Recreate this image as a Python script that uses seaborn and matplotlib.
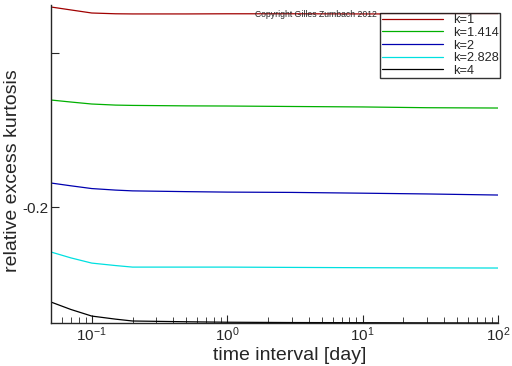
import numpy as np
import pandas as pd
import seaborn as sns
import matplotlib.pyplot as plt

# time interval [day]
t = [0.05, 0.07, 0.1, 0.15, 0.2, 0.5, 1, 3, 10, 30, 100]
k_labels = ['k=1', 'k=1.414', 'k=2', 'k=2.828', 'k=4']
k1 = [-0.0701, -0.0720, -0.0740, -0.0745, -0.0746, -0.0746, -0.0745, -0.0745, -0.0746, -0.0746, -0.0747]
k1414 = [-0.1305, -0.1318, -0.1331, -0.1338, -0.1340, -0.1343, -0.1344, -0.1347, -0.1350, -0.1355, -0.1357]
k2 = [-0.1844, -0.1862, -0.1880, -0.1890, -0.1895, -0.1900, -0.1903, -0.1905, -0.1910, -0.1915, -0.1922]
k2828 = [-0.2292, -0.2330, -0.2364, -0.2380, -0.2390, -0.2390, -0.2390, -0.2392, -0.2394, -0.2395, -0.2396]
k4 = [-0.2617, -0.2665, -0.2708, -0.2728, -0.2740, -0.2745, -0.2748, -0.2750, -0.2751, -0.2752, -0.2753]
colors = ['#a00000', '#00b000', '#0000b0', '#00e0e0', '#000000']

rows = []
for lab, vals in zip(k_labels, [k1, k1414, k2, k2828, k4]):
    for x, v in zip(t, vals):
        rows.append({'t': x, 'kurt': v, 'k': lab})
df = pd.DataFrame(rows)

sns.set_style("ticks")
plt.rcParams['font.family'] = ['Liberation Sans', 'DejaVu Sans']
plt.rcParams['mathtext.default'] = 'regular'
fig = plt.figure(figsize=(5.12, 3.66), dpi=100)
ax = fig.add_axes([51/512, 43/366, 447/512, 318/366])

sns.lineplot(data=df, x='t', y='kurt', hue='k', hue_order=k_labels,
             palette=colors, linewidth=0.9, ax=ax)
ax.set_xscale('log')
ax.set_xlim(0.05, 100)
ax.set_ylim(-0.2753, -0.0688)
ax.set_yticks([-0.2, -0.1])
ax.set_yticklabels(['-0.2', ''])
ax.set_xticks([0.1, 1, 10, 100])
ax.set_xticklabels([r'$10^{-1}$', r'$10^{0}$', r'$10^{1}$', r'$10^{2}$'])
ax.tick_params(direction='in', which='both', labelsize=11, length=6, pad=2)
ax.tick_params(which='minor', length=4)
for s in ['top', 'right']:
    ax.spines[s].set_visible(False)
for s in ['left', 'bottom']:
    ax.spines[s].set_linewidth(1.0)
ax.set_xlabel('time interval [day]', fontsize=14)
ax.set_ylabel('relative excess kurtosis', fontsize=14)
ax.xaxis.set_label_coords(0.535, -0.077)
ax.yaxis.set_label_coords(-0.066, 0.48)

leg = ax.legend(loc='upper right', bbox_to_anchor=(1.005, 0.975), fontsize=9.2,
                frameon=True, fancybox=False, edgecolor='black',
                handlelength=4.8, labelspacing=0.05, borderpad=0.1,
                borderaxespad=0)
leg.get_frame().set_linewidth(1.0)
fig.text(255/512, 1 - 17/366, 'Copyright Gilles Zumbach 2012', fontsize=6.2)

fig.savefig('out.png', dpi=100)
